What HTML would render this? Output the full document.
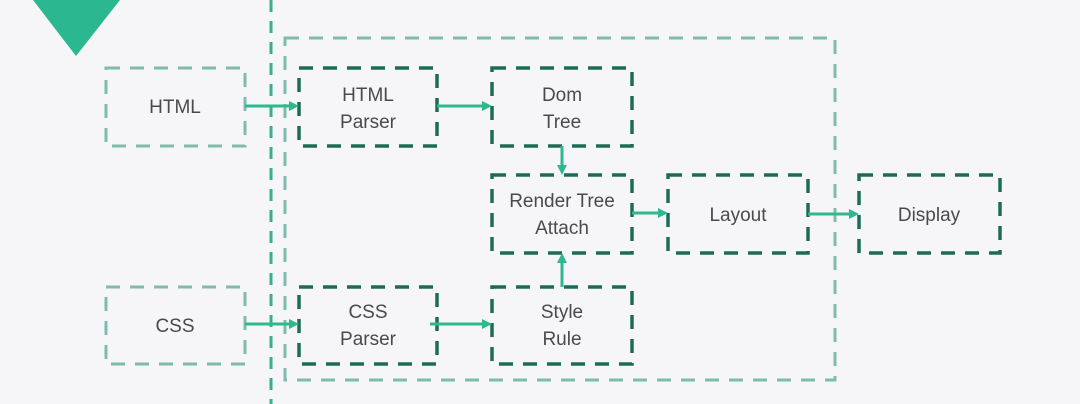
<!DOCTYPE html>
<html><head><meta charset="utf-8"><style>
html,body{margin:0;padding:0;background:#f6f6f8;}
svg{display:block}
text{font-family:"Liberation Sans",sans-serif;font-size:19px;fill:#4a4a4a;text-anchor:middle}
</style></head><body>
<svg width="1080" height="404" viewBox="0 0 1080 404">
<rect width="1080" height="404" fill="#f6f6f8"/>
<polygon points="33,0 120,0 76,56" fill="#2bb890"/>
<line x1="271" y1="0" x2="271" y2="404" stroke="#3aaf8c" stroke-width="3" stroke-dasharray="12,9"/>
<rect x="285" y="38" width="550" height="342" fill="none" stroke="#7fbcae" stroke-width="3" stroke-dasharray="14,10"/>
<g fill="none" stroke="#7fbcae" stroke-width="3" stroke-dasharray="14,10">
<rect x="106" y="68" width="139" height="78"/>
<rect x="106" y="287" width="139" height="77"/>
</g>
<g fill="none" stroke="#1e6b55" stroke-width="3.5" stroke-dasharray="14,10">
<rect x="299" y="68" width="138" height="78"/>
<rect x="492" y="68" width="140" height="78"/>
<rect x="492" y="175" width="140" height="78"/>
<rect x="668" y="175" width="140" height="78"/>
<rect x="859" y="175" width="141" height="78"/>
<rect x="299" y="287" width="138" height="77"/>
<rect x="492" y="287" width="140" height="77"/>
</g>
<g stroke="#2fb890" stroke-width="3" fill="#2fb890">
<line x1="245" y1="106" x2="292" y2="106"/><polygon points="299,106 289,101 289,111" stroke="none"/>
<line x1="437" y1="106" x2="485" y2="106"/><polygon points="492,106 482,101 482,111" stroke="none"/>
<line x1="562" y1="146" x2="562" y2="168"/><polygon points="562,175 557,165 567,165" stroke="none"/>
<line x1="562" y1="287" x2="562" y2="260"/><polygon points="562,253 557,263 567,263" stroke="none"/>
<line x1="632" y1="213" x2="661" y2="213"/><polygon points="668,213 658,208 658,218" stroke="none"/>
<line x1="808" y1="214" x2="852" y2="214"/><polygon points="859,214 849,209 849,219" stroke="none"/>
<line x1="245" y1="324" x2="292" y2="324"/><polygon points="299,324 289,319 289,329" stroke="none"/>
<line x1="430" y1="324" x2="485" y2="324"/><polygon points="492,324 482,319 482,329" stroke="none"/>
</g>
<text x="175" y="113">HTML</text>
<text x="175" y="332">CSS</text>
<text x="368" y="101">HTML</text><text x="368" y="128">Parser</text>
<text x="562" y="101">Dom</text><text x="562" y="128">Tree</text>
<text x="562" y="207">Render Tree</text><text x="562" y="234">Attach</text>
<text x="738" y="221">Layout</text>
<text x="929" y="221">Display</text>
<text x="368" y="318">CSS</text><text x="368" y="345">Parser</text>
<text x="562" y="318">Style</text><text x="562" y="345">Rule</text>
</svg>
</body></html>
